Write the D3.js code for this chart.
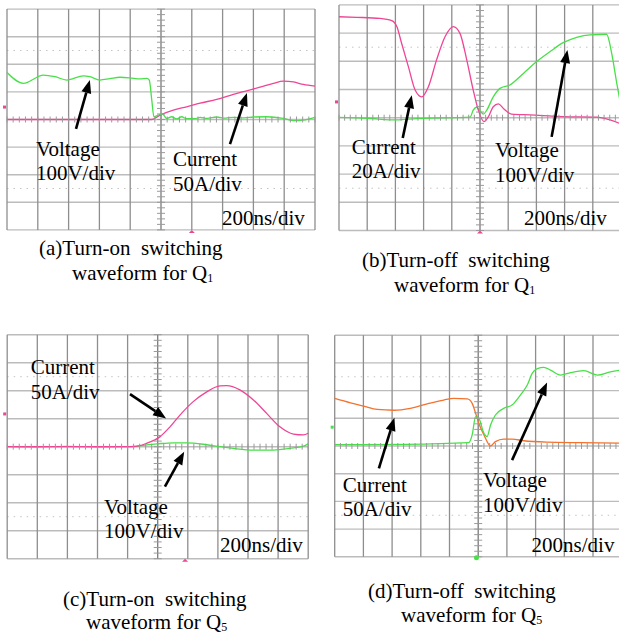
<!DOCTYPE html>
<html><head><meta charset="utf-8">
<script src="https://cdn.jsdelivr.net/npm/d3@7"></script>
<style>
body{margin:0;background:#fff;}
svg{display:block;font-family:"Liberation Serif","Times New Roman",serif;}
text{white-space:pre;}
</style></head><body>
<svg id="chart" width="619" height="635"></svg>
<script>
// ---------- DATA (time in ns, voltage in V, current in A) ----------
// (a) Turn-on Q1
const aVoltT = [-1000,-894,-764,-688,-612,-504,-462,-396,-332,-266,-202,-136,-92,-76,-60,-46,-18,10,36,70,102,134,166,220,254,300,360,420,470,540,600,686,794,860,924,1000];
const aVoltV = [170,131,161,155,143,158,155,143,148,153,151,147,149,143,71,10,16,20,4,10,2,10,3,3,8,4,9,5,8,6,9,10,4,-4,-2,8];
const aCurrT = [-1000,-60,-6,80,166,254,362,470,556,642,730,794,860,924,1000];
const aCurrI = [0,0,8,17,23,29.5,36.5,45.5,52,58.5,65.5,69.5,68,63.5,60.5];
// (b) Turn-off Q1
const bCurrT = [-1000,-874,-710,-626,-590,-556,-508,-460,-414,-366,-308,-248,-190,-142,-94,-48,-12,28,60,94,130,166,224,354,590,828,922,1000];
const bCurrI = [71.6,71.2,70.4,68.8,64.6,52.8,36.2,19.6,14.8,22,41,57.4,64.6,59.8,41,19.6,5.4,-2.8,0.8,7.8,9.8,6.6,2.6,2,0.8,0.4,-1.6,-4.4];
const bVoltT = [-1000,-800,-590,-450,-300,-150,-70,-48,-24,0,24,48,94,142,212,308,402,496,590,686,780,898,934,970,1000];
const bVoltV = [1,-2,-8,-3,-1,0,2,27,37,25,13,27,74,104,116,157,199,234,266,285,294,296,228,122,40];
// (c) Turn-on Q5
const cCurrT = [-1000,-162,-74,16,82,148,236,326,414,458,546,636,724,812,902,968,1000];
const cCurrI = [0,0,6,18,35.5,56.5,80.5,98,108.5,109,101.5,83.5,59.5,35.5,22.5,21,24];
const cVoltT = [-1000,-800,-600,-400,-200,-6,104,192,326,414,502,636,768,880,968,1000];
const cVoltV = [0,-1,1,-1,0,10,14,14,7,0,-6,-12,-12,-6,2,10];
// (d) Turn-off Q5
const dCurrT = [-1000,-890,-798,-704,-588,-472,-356,-240,-170,-76,-42,-18,4,40,86,120,178,236,318,480,712,1000];
const dCurrI = [86,78,72,66,64.5,68,76,83,86,85,77,59,41,20,0,8,12.5,12.5,9.5,7,6,5];
const dVoltT = [-1000,-500,-66,-42,-18,4,40,62,86,120,178,236,294,342,376,412,458,504,574,644,736,830,922,1000];
const dVoltV = [5,6,12,40,106,100,46,34,76,112,136,148,184,220,262,279,284,274,256,265,272,256,268,274];

// scale settings per panel (units per division)
const timePerDiv = 200;      // ns/div
const voltPerDiv = 100;      // V/div
const currPerDivA = 50, currPerDivB = 20, currPerDivC = 50, currPerDivD = 50;

// label texts
const captions = [
  ["(a)Turn-on  switching", "waveform for Q", "1"],
  ["(b)Turn-off  switching", "waveform for Q", "1"],
  ["(c)Turn-on  switching", "waveform for Q", "5"],
  ["(d)Turn-off  switching", "waveform for Q", "5"]
];

// ---------- LAYOUT ----------
const PINK = "#ef4595", GREEN = "#48e048", ORANGE = "#f2722e";
const FS = 21;
const zip = (t, v) => t.map((d, i) => [d, v[i]]);

const panels = [
  {left:7, top:9.1, dw:30.8, dh:27.6,
   traces:[{data:zip(aCurrT,aCurrI), per:currPerDivA, color:PINK},
           {data:zip(aVoltT,aVoltV), per:voltPerDiv, color:GREEN}],
   labels:[["Voltage",-4.06,-1.32],["100V/div",-4.06,-2.19],["Current",0.39,-1.67],["50A/div",0.39,-2.58],["200ns/div",1.98,-3.82]],
   arrows:[[-2.76,-0.34,-2.31,1.43],[2.24,-0.89,2.79,0.96]],
   gnd:{y:0.45,c:PINK}, trig:{x:1.0,c:PINK,shape:"tri"},
   cap:{x1:39,y1:255,x2:72,y2:280}},
  {left:339, top:4.9, dw:28.2, dh:28.2,
   traces:[{data:zip(bVoltT,bVoltV), per:voltPerDiv, color:GREEN},
           {data:zip(bCurrT,bCurrI), per:currPerDivB, color:PINK}],
   labels:[["Current",-4.55,-1.27],["20A/div",-4.55,-2.15],["Voltage",0.53,-1.40],["100V/div",0.53,-2.27],["200ns/div",1.56,-3.80]],
   arrows:[[-2.74,-0.72,-2.42,0.80],[2.54,-0.68,3.10,2.40]],
   gnd:{y:0.56,c:PINK}, trig:{x:0,c:PINK,shape:"tri"},
   cap:{x1:362,y1:267,x2:394,y2:292}},
  {left:7.2, top:334.7, dw:30.1, dh:28,
   traces:[{data:zip(cVoltT,cVoltV), per:voltPerDiv, color:GREEN},
           {data:zip(cCurrT,cCurrI), per:currPerDivC, color:PINK}],
   labels:[["Current",-4.22,2.60],["50A/div",-4.22,1.70],["Voltage",-1.78,-2.40],["100V/div",-1.78,-3.27],["200ns/div",2.07,-3.75]],
   arrows:[[-0.92,1.88,0.28,1.01],[0.24,-1.43,0.88,-0.18]],
   gnd:{y:1.17,c:PINK}, trig:{x:0.91,c:PINK,shape:"tri"},
   cap:{x1:63,y1:606,x2:86,y2:629}},
  {left:334.7, top:335.2, dw:28.7, dh:27.7,
   traces:[{data:zip(dCurrT,dCurrI), per:currPerDivD, color:ORANGE},
           {data:zip(dVoltT,dVoltV), per:voltPerDiv, color:GREEN}],
   labels:[["Current",-4.72,-1.65],["50A/div",-4.72,-2.53],["Voltage",0.17,-1.47],["100V/div",0.17,-2.37],["200ns/div",1.86,-3.82]],
   arrows:[[-3.46,-0.81,-2.92,1.02],[1.18,-0.51,2.40,2.29]],
   gnd:{y:0.68,c:GREEN}, trig:{x:-0.06,c:GREEN,shape:"dot"},
   cap:{x1:368,y1:598,x2:401,y2:622}}
];

const svg = d3.select("#chart");

panels.forEach((p, pi) => {
  const g = svg.append("g");
  const x = d3.scaleLinear().domain([-5,5]).range([p.left, p.left + 10*p.dw]);
  const y = d3.scaleLinear().domain([-4,4]).range([p.top + 8*p.dh, p.top]);
  const xt = d3.scaleLinear().domain([-5*timePerDiv, 5*timePerDiv]).range(x.range());

  // horizontal grid
  g.selectAll(".hg").data(d3.range(-4,5)).join("line")
    .attr("x1", x(-5)).attr("x2", x(5)).attr("y1", d=>y(d)).attr("y2", d=>y(d))
    .attr("stroke", "#bcbcbc").attr("stroke-width", 1.4);
  // dotted lines
  g.selectAll(".dg").data([-2.5,2.5]).join("line")
    .attr("x1", x(-5)).attr("x2", x(5)).attr("y1", d=>y(d)).attr("y2", d=>y(d))
    .attr("stroke", "#c4c4c4").attr("stroke-width", 1).attr("stroke-dasharray","1.5,5");
  // vertical grid
  g.selectAll(".vg").data(d3.range(-5,6)).join("line")
    .attr("y1", y(-4)).attr("y2", y(4)).attr("x1", d=>x(d)).attr("x2", d=>x(d))
    .attr("stroke", d=> d===0 ? "#7a7a7a" : "#8e8e8e").attr("stroke-width", 1.3);

  // traces
  p.traces.forEach(tr => {
    const ys = d3.scaleLinear().domain([-4*tr.per, 4*tr.per]).range(y.range());
    const line = d3.line().x(d=>xt(d[0])).y(d=>ys(d[1])).curve(d3.curveMonotoneX);
    g.append("path").datum(tr.data).attr("d", line)
      .attr("fill","none").attr("stroke", tr.color).attr("stroke-width", 1.3);
  });

  // minor ticks on centre lines
  g.selectAll(".tx").data(d3.range(-25,26)).join("line")
    .attr("x1", d=>x(d*0.2)).attr("x2", d=>x(d*0.2)).attr("y1", y(0)-3).attr("y2", y(0)+3)
    .attr("stroke", "#9a9a9a").attr("stroke-width", 1);
  g.selectAll(".ty").data(d3.range(-20,21)).join("line")
    .attr("y1", d=>y(d*0.2)).attr("y2", d=>y(d*0.2)).attr("x1", x(0)-4).attr("x2", x(0)+4)
    .attr("stroke", "#9a9a9a").attr("stroke-width", 1);

  // markers
  g.append("rect").attr("x", x(-5)-4).attr("y", y(p.gnd.y)-1.5).attr("width",3).attr("height",3).attr("fill",p.gnd.c);
  if (p.trig.shape === "tri") {
    const tx = x(p.trig.x), ty = y(-4);
    g.append("path").attr("d", `M${tx-3},${ty+3}L${tx+3},${ty+3}L${tx},${ty}Z`).attr("fill", p.trig.c);
  } else {
    g.append("circle").attr("cx", x(p.trig.x)).attr("cy", y(-4)+1).attr("r", 2.5).attr("fill", p.trig.c);
  }

  // labels
  g.selectAll(".lbl").data(p.labels).join("text")
    .attr("x", d=>x(d[1])).attr("y", d=>y(d[2]))
    .attr("font-size", FS).attr("fill","#000").text(d=>d[0]);

  // arrows
  p.arrows.forEach(a => {
    const x1 = x(a[0]), y1 = y(a[1]), x2 = x(a[2]), y2 = y(a[3]);
    const ang = Math.atan2(y2-y1, x2-x1), L = 13, W = 5;
    const bx = x2 - L*Math.cos(ang), by = y2 - L*Math.sin(ang);
    g.append("line").attr("x1",x1).attr("y1",y1).attr("x2",bx).attr("y2",by)
      .attr("stroke","#000").attr("stroke-width",2.6);
    const px = -Math.sin(ang)*W, py = Math.cos(ang)*W;
    g.append("path").attr("d",`M${x2},${y2}L${bx+px},${by+py}L${bx-px},${by-py}Z`).attr("fill","#000");
  });

  // caption
  const c = captions[pi];
  g.append("text").attr("x", p.cap.x1).attr("y", p.cap.y1).attr("font-size", FS).text(c[0]);
  const t2 = g.append("text").attr("x", p.cap.x2).attr("y", p.cap.y2).attr("font-size", FS);
  t2.append("tspan").text(c[1]);
  t2.append("tspan").attr("font-size", 12).attr("dy", 2).text(c[2]);
});
</script>
</body></html>
